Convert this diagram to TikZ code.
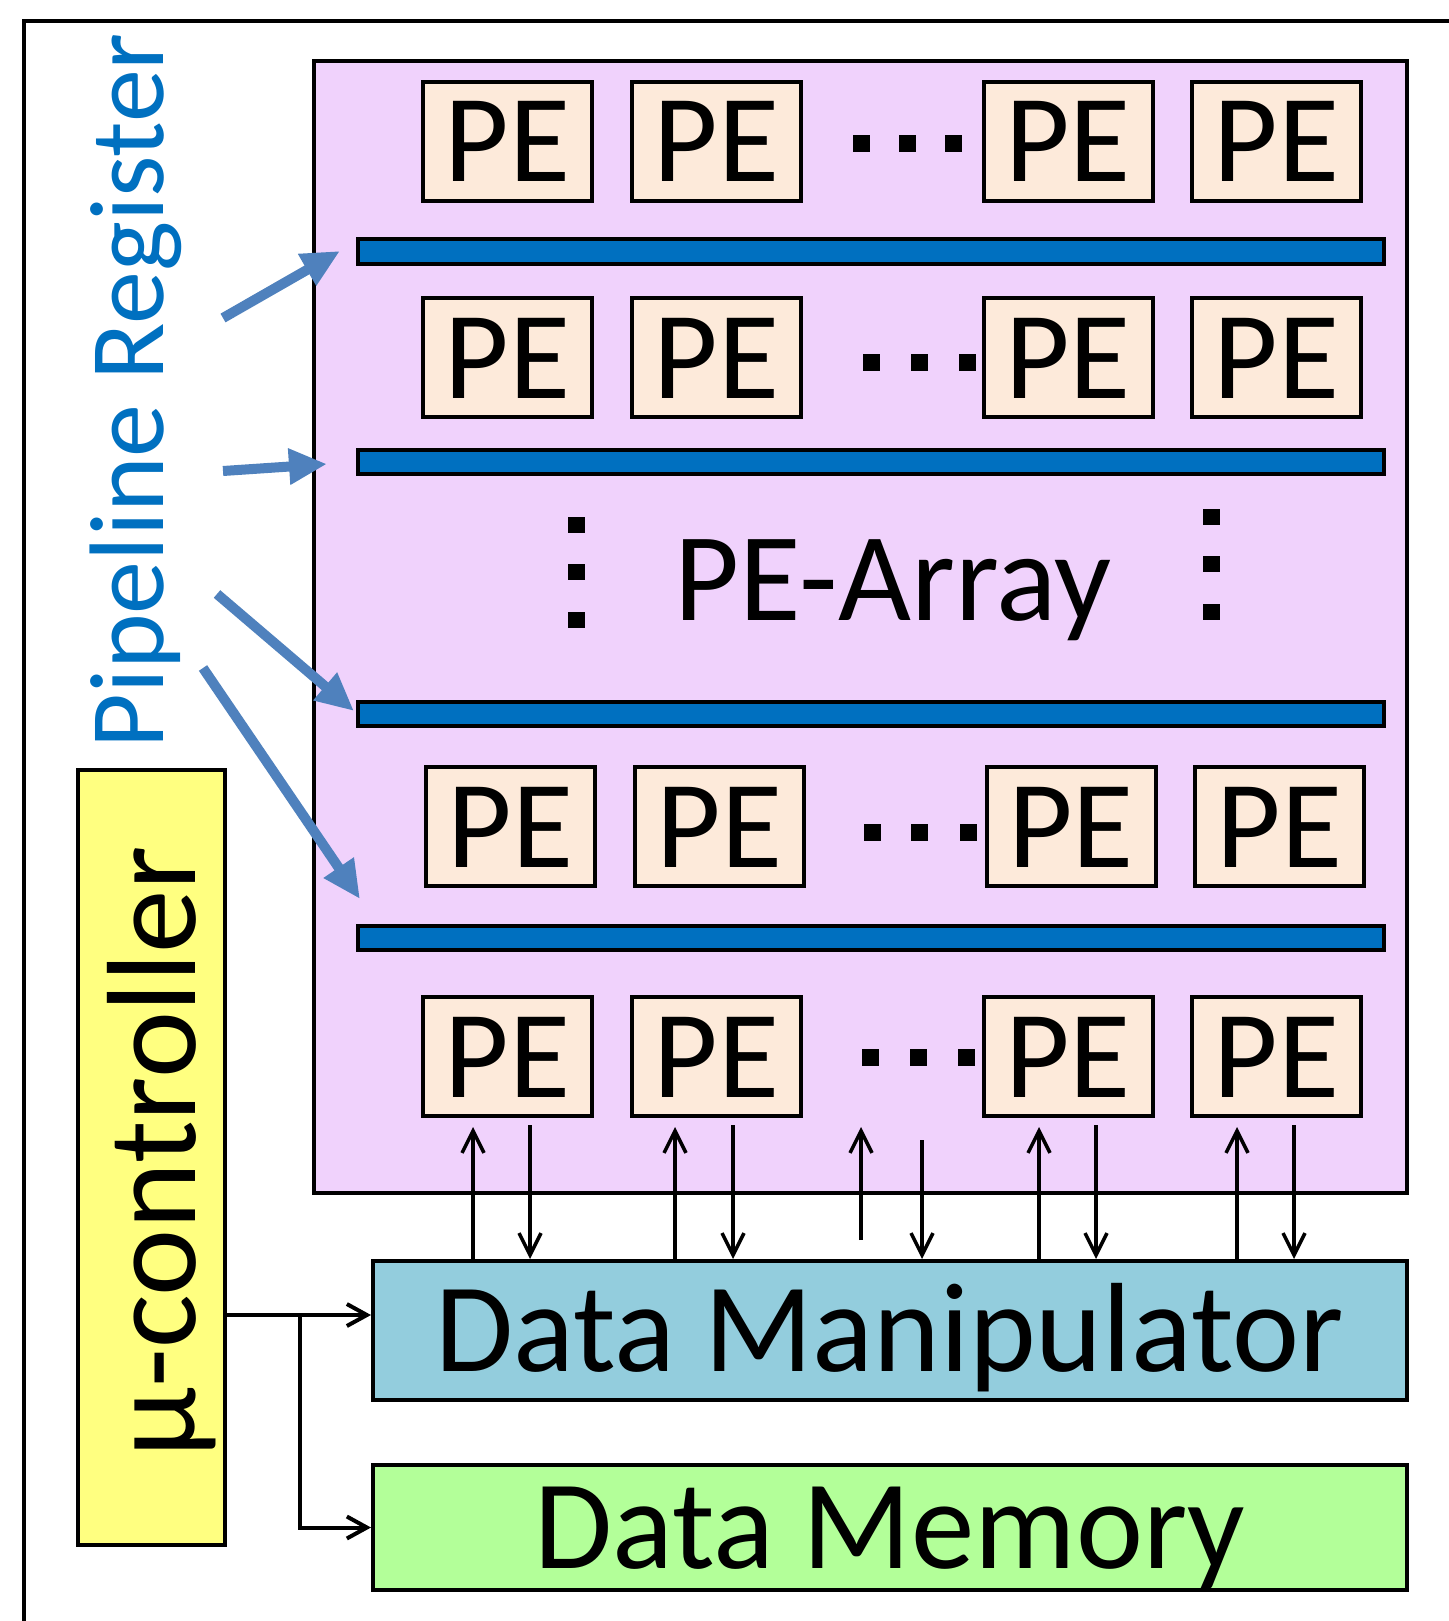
\documentclass[tikz,border=0pt]{standalone}
\usepackage{fontspec}
\setmainfont{Carlito}
\usetikzlibrary{arrows.meta,calc}
\definecolor{arrayfill}{HTML}{F0D2FC}
\definecolor{pefill}{HTML}{FDEADA}
\definecolor{barblue}{HTML}{0070C0}
\definecolor{dmfill}{HTML}{93CDDD}
\definecolor{memfill}{HTML}{B3FF99}
\definecolor{mufill}{HTML}{FFFF80}
\definecolor{arrowblue}{HTML}{4F81BD}
\newcommand{\myfs}[1]{\fontsize{#1}{#1}\selectfont}
\begin{document}
\begin{tikzpicture}[x=1pt,y=-1pt,
  box/.style={draw, line width=4pt, inner sep=0pt},
  pe/.style={box, fill=pefill, minimum width=169pt, minimum height=119pt, font=\myfs{125}, text height=81pt, text depth=0pt},
  regbar/.style={box, fill=barblue, minimum width=1026pt, minimum height=24pt},
  bigbox/.style={box, font=\myfs{127}, text height=81pt, text depth=0pt},
  bluearrow/.style={draw=arrowblue, line width=10pt, -{Triangle[length=38pt,width=34pt]}},
  dmarrow/.style={line width=3.5pt, -{Straight Barb[length=22pt,width=22pt]}},
  ctrlarrow/.style={line width=4pt, -{Straight Barb[length=20pt,width=22pt]}},
  sqdot/.style={fill=black}
]
\fill[white] (0,0) rectangle (1448,1621);
\useasboundingbox (0,0) rectangle (1448,1621);

% outer frame
\draw[line width=4pt] (1460,21) -- (24,21) -- (24,1640);

% PE array
\node[box, fill=arrayfill, minimum width=1093pt, minimum height=1132pt] (array) at (860.5,627) {};

% registers
\node[regbar] (bar1) at (871,251.5) {};
\node[regbar] (bar2) at (871,461.5) {};
\node[regbar] (bar3) at (871,714) {};
\node[regbar] (bar4) at (871,938) {};

% PEs
\foreach \r/\y/\dx in {1/141.5/0, 2/357.5/0, 3/826.5/3, 4/1056.5/0} {
  \foreach \c/\x in {1/507.5, 2/716.5, 3/1068, 4/1276.5} {
    \node[pe] (pe\r\c) at (\x+\dx,\y) {PE};
  }
}

% horizontal dots
\foreach \y/\a/\b/\c in {144/861/907/953, 362/871/919/967, 832/872/919/968, 1057/870/918/966} {
  \foreach \x in {\a,\b,\c} {
    \fill[sqdot] (\x-8.5,\y-8.5) rectangle ++(17,17);
  }
}
% vertical dots
\foreach \y in {525,572,620} { \fill[sqdot] (576-8.5,\y-8) rectangle ++(17,16); }
\foreach \y in {517,564,612} { \fill[sqdot] (1211-8.5,\y-8) rectangle ++(17,16); }

\node[font=\myfs{126}, anchor=base, inner sep=0pt] (arraylabel) at (893,620) {PE-Array};

% Pipeline register label and arrows
\node[font=\myfs{106}, text=barblue, rotate=90, anchor=base, inner sep=0pt] (plabel) at (163,391) {Pipeline Register};
\coordinate (s1) at (223,318); \coordinate (t1) at (340,251);
\coordinate (s2) at (223,471); \coordinate (t2) at (327,464);
\coordinate (s3) at (217,594); \coordinate (t3) at (354,711);
\coordinate (s4) at (203,668); \coordinate (t4) at (360,899);
\draw[bluearrow] (s1) -- (t1);
\draw[bluearrow] (s2) -- (t2);
\draw[bluearrow] (s3) -- (t3);
\draw[bluearrow] (s4) -- (t4);

% lower boxes
\node[bigbox, fill=dmfill, minimum width=1034pt, minimum height=139pt] (dm) at (890,1330.5) {Data Manipulator};
\node[bigbox, fill=memfill, minimum width=1034pt, minimum height=125pt] (mem) at (890,1527.5) {Data Memory};
\node[box, fill=mufill, minimum width=147pt, minimum height=775pt] (mu) at (151.5,1157.5) {};
\node[font=\myfs{127}, rotate=90, anchor=base, inner sep=0pt] (mulabel) at (195,1152) {µ-controller};

% PE <-> data manipulator
\foreach \ux/\dx [count=\i] in {473/530, 675/733, 1039/1096, 1237/1294} {
  \coordinate (u\i) at (\ux,1127);
  \coordinate (d\i) at (\dx,1125);
  \draw[dmarrow] (u\i |- dm.north) -- (u\i);
  \draw[dmarrow] (d\i) -- (d\i |- dm.north);
}
\coordinate (umid0) at (861,1240); \coordinate (umid) at (861,1127);
\draw[dmarrow] (umid0) -- (umid);
\coordinate (dmid) at (922,1140);
\draw[dmarrow] (dmid) -- (dmid |- dm.north);

% controller connections
\coordinate (j) at (300,1315);
\draw[ctrlarrow] (j -| mu.east) -- (j -| dm.west);
\draw[ctrlarrow] (j) |- (mem.west);
\end{tikzpicture}
\end{document}
